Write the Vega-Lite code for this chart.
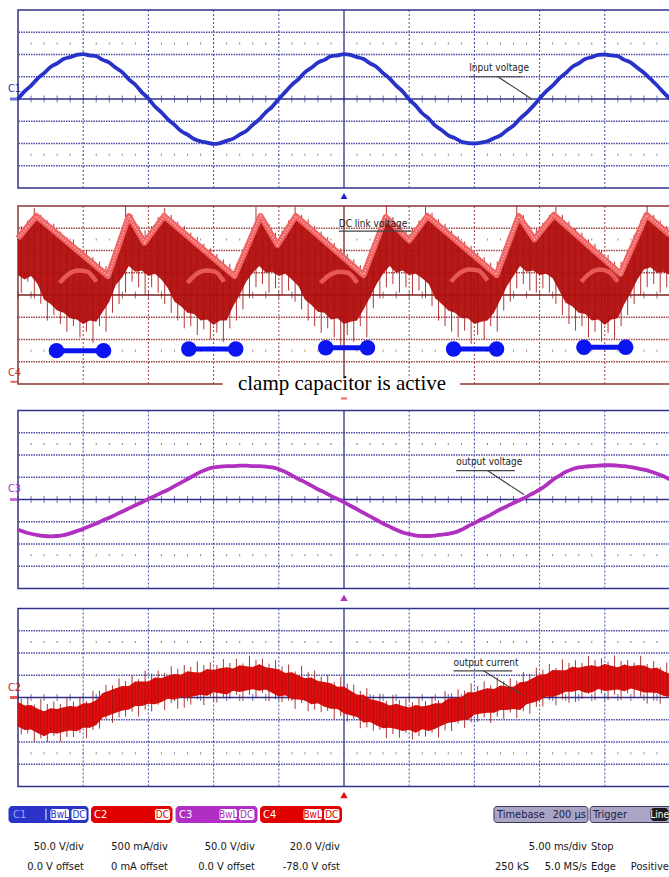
{
"$schema": "https://vega.github.io/schema/vega-lite/v6.json",
"padding": {"left": 7, "top": 8, "right": 0, "bottom": 0},
"background": "white",
"config": {
 "view": {"stroke": "#32328a", "strokeWidth": 1.5},
 "text": {"font": "Liberation Sans Narrow, DejaVu Sans Condensed, sans-serif"}
},
"datasets": {
 "gx": [{"t":5},{"t":10},{"t":15},{"t":20},{"t":30},{"t":35},{"t":40},{"t":45}],
 "gy1": [{"v":-150},{"v":-100},{"v":-50},{"v":50},{"v":100},{"v":150}],
 "gy2": [{"v":18},{"v":38},{"v":58},{"v":98},{"v":118},{"v":138}],
 "gy4": [{"v":-1500},{"v":-1000},{"v":-500},{"v":500},{"v":1000},{"v":1500}],
 "minor": [{"t":0},{"t":1},{"t":2},{"t":3},{"t":4},{"t":5},{"t":6},{"t":7},{"t":8},{"t":9},{"t":10},{"t":11},{"t":12},{"t":13},{"t":14},{"t":15},{"t":16},{"t":17},{"t":18},{"t":19},{"t":20},{"t":21},{"t":22},{"t":23},{"t":24},{"t":25},{"t":26},{"t":27},{"t":28},{"t":29},{"t":30},{"t":31},{"t":32},{"t":33},{"t":34},{"t":35},{"t":36},{"t":37},{"t":38},{"t":39},{"t":40},{"t":41},{"t":42},{"t":43},{"t":44},{"t":45},{"t":46},{"t":47},{"t":48},{"t":49},{"t":50}],
 "p1": [{"t":0,"v":0},{"t":0.5,"v":17},{"t":1,"v":30},{"t":1.5,"v":46},{"t":2,"v":58},{"t":2.5,"v":72},{"t":3,"v":80},{"t":3.5,"v":90},{"t":4,"v":94},{"t":4.5,"v":99},{"t":5,"v":101},{"t":5.5,"v":98},{"t":6,"v":96},{"t":6.5,"v":88},{"t":7,"v":82},{"t":7.5,"v":70},{"t":8,"v":60},{"t":8.5,"v":44},{"t":9,"v":32},{"t":9.5,"v":15},{"t":10,"v":1},{"t":10.5,"v":-17},{"t":11,"v":-30},{"t":11.5,"v":-46},{"t":12,"v":-58},{"t":12.5,"v":-72},{"t":13,"v":-80},{"t":13.5,"v":-90},{"t":14,"v":-95},{"t":14.5,"v":-98},{"t":15,"v":-101},{"t":15.5,"v":-99},{"t":16,"v":-94},{"t":16.5,"v":-89},{"t":17,"v":-80},{"t":17.5,"v":-72},{"t":18,"v":-58},{"t":18.5,"v":-46},{"t":19,"v":-30},{"t":19.5,"v":-17},{"t":20,"v":0},{"t":20.5,"v":16},{"t":21,"v":32},{"t":21.5,"v":44},{"t":22,"v":60},{"t":22.5,"v":70},{"t":23,"v":82},{"t":23.5,"v":88},{"t":24,"v":96},{"t":24.5,"v":98},{"t":25,"v":101},{"t":25.5,"v":99},{"t":26,"v":94},{"t":26.5,"v":90},{"t":27,"v":80},{"t":27.5,"v":72},{"t":28,"v":58},{"t":28.5,"v":46},{"t":29,"v":30},{"t":29.5,"v":17},{"t":30,"v":-1},{"t":30.5,"v":-15},{"t":31,"v":-32},{"t":31.5,"v":-44},{"t":32,"v":-60},{"t":32.5,"v":-70},{"t":33,"v":-82},{"t":33.5,"v":-88},{"t":34,"v":-96},{"t":34.5,"v":-99},{"t":35,"v":-100},{"t":35.5,"v":-98},{"t":36,"v":-95},{"t":36.5,"v":-88},{"t":37,"v":-82},{"t":37.5,"v":-70},{"t":38,"v":-60},{"t":38.5,"v":-44},{"t":39,"v":-31},{"t":39.5,"v":-16},{"t":40,"v":1},{"t":40.5,"v":17},{"t":41,"v":30},{"t":41.5,"v":46},{"t":42,"v":58},{"t":42.5,"v":72},{"t":43,"v":80},{"t":43.5,"v":90},{"t":44,"v":94},{"t":44.5,"v":99},{"t":45,"v":100},{"t":45.5,"v":98},{"t":46,"v":96},{"t":46.5,"v":88},{"t":47,"v":82},{"t":47.5,"v":70},{"t":48,"v":59},{"t":48.5,"v":45},{"t":49,"v":31},{"t":49.5,"v":15},{"t":50,"v":0}],
 "p3": [{"t":0,"v":-68},{"t":0.5,"v":-73},{"t":1,"v":-77},{"t":1.5,"v":-80},{"t":2,"v":-82},{"t":2.5,"v":-83},{"t":3,"v":-82},{"t":3.5,"v":-80},{"t":4,"v":-76},{"t":4.5,"v":-71},{"t":5,"v":-66},{"t":5.5,"v":-60},{"t":6,"v":-54},{"t":6.5,"v":-47},{"t":7,"v":-41},{"t":7.5,"v":-34},{"t":8,"v":-27},{"t":8.5,"v":-20},{"t":9,"v":-13},{"t":9.5,"v":-6},{"t":10,"v":1},{"t":10.5,"v":8},{"t":11,"v":15},{"t":11.5,"v":22},{"t":12,"v":30},{"t":12.5,"v":38},{"t":13,"v":46},{"t":13.5,"v":54},{"t":14,"v":62},{"t":14.5,"v":68},{"t":15,"v":72},{"t":15.5,"v":74},{"t":16,"v":75},{"t":16.5,"v":75},{"t":17,"v":76},{"t":17.5,"v":76},{"t":18,"v":75},{"t":18.5,"v":75},{"t":19,"v":74},{"t":19.5,"v":72},{"t":20,"v":68},{"t":20.5,"v":62},{"t":21,"v":54},{"t":21.5,"v":46},{"t":22,"v":39},{"t":22.5,"v":31},{"t":23,"v":23},{"t":23.5,"v":16},{"t":24,"v":8},{"t":24.5,"v":1},{"t":25,"v":-6},{"t":25.5,"v":-14},{"t":26,"v":-22},{"t":26.5,"v":-30},{"t":27,"v":-38},{"t":27.5,"v":-46},{"t":28,"v":-54},{"t":28.5,"v":-61},{"t":29,"v":-68},{"t":29.5,"v":-74},{"t":30,"v":-78},{"t":30.5,"v":-81},{"t":31,"v":-82},{"t":31.5,"v":-82},{"t":32,"v":-81},{"t":32.5,"v":-79},{"t":33,"v":-77},{"t":33.5,"v":-74},{"t":34,"v":-68},{"t":34.5,"v":-60},{"t":35,"v":-53},{"t":35.5,"v":-45},{"t":36,"v":-38},{"t":36.5,"v":-30},{"t":37,"v":-22},{"t":37.5,"v":-15},{"t":38,"v":-8},{"t":38.5,"v":-1},{"t":39,"v":6},{"t":39.5,"v":14},{"t":40,"v":22},{"t":40.5,"v":32},{"t":41,"v":44},{"t":41.5,"v":53},{"t":42,"v":62},{"t":42.5,"v":68},{"t":43,"v":72},{"t":43.5,"v":74},{"t":44,"v":75},{"t":44.5,"v":76},{"t":45,"v":77},{"t":45.5,"v":77},{"t":46,"v":76},{"t":46.5,"v":75},{"t":47,"v":73},{"t":47.5,"v":70},{"t":48,"v":67},{"t":48.5,"v":63},{"t":49,"v":58},{"t":49.5,"v":52},{"t":50,"v":45}],
 "p4band": [{"t":0,"lo":-650,"hi":-100},{"t":0.5,"lo":-730,"hi":-180},{"t":1,"lo":-720,"hi":-170},{"t":1.5,"lo":-800,"hi":-250},{"t":2,"lo":-870,"hi":-310},{"t":2.5,"lo":-790,"hi":-240},{"t":3,"lo":-810,"hi":-260},{"t":3.5,"lo":-770,"hi":-220},{"t":4,"lo":-740,"hi":-190},{"t":4.5,"lo":-760,"hi":-210},{"t":5,"lo":-680,"hi":-130},{"t":5.5,"lo":-680,"hi":-130},{"t":6,"lo":-620,"hi":-60},{"t":6.5,"lo":-450,"hi":100},{"t":7,"lo":-400,"hi":150},{"t":7.5,"lo":-340,"hi":210},{"t":8,"lo":-290,"hi":260},{"t":8.5,"lo":-270,"hi":260},{"t":9,"lo":-190,"hi":360},{"t":9.5,"lo":-190,"hi":360},{"t":10,"lo":-140,"hi":360},{"t":10.5,"lo":-150,"hi":450},{"t":11,"lo":-100,"hi":440},{"t":11.5,"lo":-30,"hi":490},{"t":12,"lo":-50,"hi":530},{"t":12.5,"lo":10,"hi":510},{"t":13,"lo":0,"hi":590},{"t":13.5,"lo":30,"hi":570},{"t":14,"lo":60,"hi":560},{"t":14.5,"lo":40,"hi":640},{"t":15,"lo":120,"hi":620},{"t":15.5,"lo":95,"hi":655},{"t":16,"lo":70,"hi":680},{"t":16.5,"lo":150,"hi":650},{"t":17,"lo":125,"hi":725},{"t":17.5,"lo":160,"hi":700},{"t":18,"lo":185,"hi":685},{"t":18.5,"lo":150,"hi":750},{"t":19,"lo":180,"hi":680},{"t":19.5,"lo":100,"hi":660},{"t":20,"lo":20,"hi":630},{"t":20.5,"lo":50,"hi":550},{"t":21,"lo":-40,"hi":570},{"t":21.5,"lo":-45,"hi":495},{"t":22,"lo":-70,"hi":430},{"t":22.5,"lo":-150,"hi":450},{"t":23,"lo":-130,"hi":370},{"t":23.5,"lo":-210,"hi":350},{"t":24,"lo":-250,"hi":320},{"t":24.5,"lo":-260,"hi":240},{"t":25,"lo":-360,"hi":250},{"t":25.5,"lo":-400,"hi":150},{"t":26,"lo":-440,"hi":60},{"t":26.5,"lo":-560,"hi":60},{"t":27,"lo":-550,"hi":-40},{"t":27.5,"lo":-630,"hi":-70},{"t":28,"lo":-690,"hi":-110},{"t":28.5,"lo":-680,"hi":-180},{"t":29,"lo":-710,"hi":-140},{"t":29.5,"lo":-750,"hi":-190},{"t":30,"lo":-725,"hi":-225},{"t":30.5,"lo":-790,"hi":-170},{"t":31,"lo":-715,"hi":-205},{"t":31.5,"lo":-755,"hi":-175},{"t":32,"lo":-700,"hi":-130},{"t":32.5,"lo":-630,"hi":-130},{"t":33,"lo":-570,"hi":-20},{"t":33.5,"lo":-550,"hi":-10},{"t":34,"lo":-510,"hi":10},{"t":34.5,"lo":-500,"hi":120},{"t":35,"lo":-390,"hi":120},{"t":35.5,"lo":-360,"hi":170},{"t":36,"lo":-340,"hi":210},{"t":36.5,"lo":-340,"hi":190},{"t":37,"lo":-280,"hi":270},{"t":37.5,"lo":-280,"hi":250},{"t":38,"lo":-260,"hi":240},{"t":38.5,"lo":-280,"hi":340},{"t":39,"lo":-150,"hi":360},{"t":39.5,"lo":-110,"hi":440},{"t":40,"lo":-60,"hi":510},{"t":40.5,"lo":20,"hi":520},{"t":41,"lo":10,"hi":620},{"t":41.5,"lo":60,"hi":610},{"t":42,"lo":130,"hi":610},{"t":42.5,"lo":130,"hi":690},{"t":43,"lo":170,"hi":670},{"t":43.5,"lo":105,"hi":705},{"t":44,"lo":115,"hi":725},{"t":44.5,"lo":190,"hi":690},{"t":45,"lo":145,"hi":755},{"t":45.5,"lo":165,"hi":715},{"t":46,"lo":180,"hi":680},{"t":46.5,"lo":140,"hi":740},{"t":47,"lo":205,"hi":705},{"t":47.5,"lo":165,"hi":725},{"t":48,"lo":110,"hi":720},{"t":48.5,"lo":110,"hi":650},{"t":49,"lo":100,"hi":670},{"t":49.5,"lo":40,"hi":590},{"t":50,"lo":10,"hi":530}],
 "p4spk": [{"t":0.25,"lo":-830,"hi":-30},{"t":0.75,"lo":-805,"hi":5},{"t":1.25,"lo":-1000,"hi":-160},{"t":1.75,"lo":-915,"hi":-35},{"t":2.25,"lo":-995,"hi":-145},{"t":2.75,"lo":-860,"hi":-90},{"t":3.25,"lo":-990,"hi":-150},{"t":3.75,"lo":-890,"hi":-10},{"t":4.25,"lo":-890,"hi":-90},{"t":4.75,"lo":-800,"hi":10},{"t":5.25,"lo":-920,"hi":-80},{"t":5.75,"lo":-730,"hi":150},{"t":6.25,"lo":-700,"hi":150},{"t":6.75,"lo":-485,"hi":285},{"t":7.25,"lo":-570,"hi":270},{"t":7.75,"lo":-450,"hi":430},{"t":8.25,"lo":-430,"hi":370},{"t":8.75,"lo":-320,"hi":490},{"t":9.25,"lo":-430,"hi":410},{"t":9.75,"lo":-275,"hi":605},{"t":10.25,"lo":-315,"hi":535},{"t":10.75,"lo":-165,"hi":605},{"t":11.25,"lo":-285,"hi":555},{"t":11.75,"lo":-125,"hi":705},{"t":12.25,"lo":-250,"hi":650},{"t":12.75,"lo":-230,"hi":730},{"t":13.25,"lo":-160,"hi":690},{"t":13.75,"lo":-40,"hi":810},{"t":14.25,"lo":-170,"hi":730},{"t":14.75,"lo":20,"hi":790},{"t":15.25,"lo":-112,"hi":728},{"t":15.75,"lo":-17,"hi":863},{"t":16.25,"lo":-25,"hi":775},{"t":16.75,"lo":58,"hi":868},{"t":17.25,"lo":-77,"hi":763},{"t":17.75,"lo":58,"hi":938},{"t":18.25,"lo":-2,"hi":848},{"t":18.75,"lo":105,"hi":875},{"t":19.25,"lo":-80,"hi":760},{"t":19.75,"lo":-40,"hi":840},{"t":20.25,"lo":-100,"hi":700},{"t":20.75,"lo":-70,"hi":740},{"t":21.25,"lo":-257,"hi":583},{"t":21.75,"lo":-122,"hi":708},{"t":22.25,"lo":-310,"hi":570},{"t":22.75,"lo":-270,"hi":610},{"t":23.25,"lo":-330,"hi":470},{"t":23.75,"lo":-300,"hi":510},{"t":24.25,"lo":-490,"hi":350},{"t":24.75,"lo":-415,"hi":465},{"t":25.25,"lo":-540,"hi":310},{"t":25.75,"lo":-480,"hi":290},{"t":26.25,"lo":-690,"hi":150},{"t":26.75,"lo":-670,"hi":210},{"t":27.25,"lo":-745,"hi":55},{"t":27.75,"lo":-725,"hi":85},{"t":28.25,"lo":-915,"hi":-75},{"t":28.75,"lo":-820,"hi":60},{"t":29.25,"lo":-905,"hi":-55},{"t":29.75,"lo":-793,"hi":-23},{"t":30.25,"lo":-948,"hi":-108},{"t":30.75,"lo":-868,"hi":12},{"t":31.25,"lo":-880,"hi":-80},{"t":31.75,"lo":-788,"hi":22},{"t":32.25,"lo":-900,"hi":-60},{"t":32.75,"lo":-735,"hi":145},{"t":33.25,"lo":-755,"hi":95},{"t":33.75,"lo":-585,"hi":185},{"t":34.25,"lo":-685,"hi":155},{"t":34.75,"lo":-560,"hi":320},{"t":35.25,"lo":-545,"hi":255},{"t":35.75,"lo":-445,"hi":365},{"t":36.25,"lo":-570,"hi":270},{"t":36.75,"lo":-430,"hi":450},{"t":37.25,"lo":-480,"hi":370},{"t":37.75,"lo":-340,"hi":430},{"t":38.25,"lo":-460,"hi":380},{"t":38.75,"lo":-310,"hi":570},{"t":39.25,"lo":-370,"hi":530},{"t":39.75,"lo":-210,"hi":670},{"t":40.25,"lo":-205,"hi":625},{"t":40.75,"lo":-60,"hi":750},{"t":41.25,"lo":-175,"hi":665},{"t":41.75,"lo":-45,"hi":855},{"t":42.25,"lo":-120,"hi":780},{"t":42.75,"lo":-100,"hi":840},{"t":43.25,"lo":-32,"hi":778},{"t":43.75,"lo":80,"hi":930},{"t":44.25,"lo":-62,"hi":838},{"t":44.75,"lo":93,"hi":883},{"t":45.25,"lo":-55,"hi":805},{"t":45.75,"lo":63,"hi":943},{"t":46.25,"lo":-60,"hi":820},{"t":46.75,"lo":93,"hi":843},{"t":47.25,"lo":-5,"hi":785},{"t":47.75,"lo":18,"hi":938},{"t":48.25,"lo":-135,"hi":755},{"t":48.75,"lo":-70,"hi":820},{"t":49.25,"lo":-140,"hi":680},{"t":49.75,"lo":-5,"hi":785}],
 "p2area": [{"t":0,"u":129,"l":96},{"t":0.5,"u":136,"l":92},{"t":1,"u":143,"l":95},{"t":1.5,"u":148,"l":88},{"t":2,"u":143,"l":74},{"t":2.5,"u":138,"l":70},{"t":3,"u":133,"l":64},{"t":3.5,"u":128,"l":62},{"t":4,"u":123.5,"l":57},{"t":4.5,"u":118.6,"l":56},{"t":5,"u":113.7,"l":52},{"t":5.5,"u":108.7,"l":55},{"t":6,"u":103.8,"l":54},{"t":6.5,"u":98.9,"l":63},{"t":7,"u":98.4,"l":72},{"t":7.5,"u":115.3,"l":87},{"t":8,"u":132.1,"l":94},{"t":8.5,"u":149,"l":104},{"t":9,"u":139,"l":99},{"t":9.5,"u":129,"l":100},{"t":10,"u":129.8,"l":95},{"t":10.5,"u":137.8,"l":97},{"t":11,"u":145.8,"l":92},{"t":11.5,"u":146,"l":84},{"t":12,"u":141,"l":72},{"t":12.5,"u":136,"l":68},{"t":13,"u":131,"l":62},{"t":13.5,"u":126,"l":61},{"t":14,"u":121,"l":55},{"t":14.5,"u":116,"l":56},{"t":15,"u":111,"l":51},{"t":15.5,"u":106,"l":55},{"t":16,"u":101,"l":55},{"t":16.5,"u":96,"l":68},{"t":17,"u":105.8,"l":78},{"t":17.5,"u":119.3,"l":90},{"t":18,"u":132.8,"l":98},{"t":18.5,"u":146.3,"l":104},{"t":19,"u":141,"l":98},{"t":19.5,"u":131,"l":99},{"t":20,"u":124.9,"l":95},{"t":20.5,"u":134.1,"l":97},{"t":21,"u":143.4,"l":92},{"t":21.5,"u":147,"l":86},{"t":22,"u":141.9,"l":74},{"t":22.5,"u":136.8,"l":69},{"t":23,"u":131.7,"l":63},{"t":23.5,"u":126.6,"l":62},{"t":24,"u":121.5,"l":56},{"t":24.5,"u":116.4,"l":57},{"t":25,"u":111.3,"l":52},{"t":25.5,"u":106.2,"l":54},{"t":26,"u":101.1,"l":55},{"t":26.5,"u":96,"l":65},{"t":27,"u":111.3,"l":76},{"t":27.5,"u":126.6,"l":88},{"t":28,"u":141.9,"l":97},{"t":28.5,"u":144.5,"l":104},{"t":29,"u":138.7,"l":98},{"t":29.5,"u":132.8,"l":100},{"t":30,"u":127,"l":96},{"t":30.5,"u":134.9,"l":97},{"t":31,"u":142.7,"l":93},{"t":31.5,"u":148,"l":88},{"t":32,"u":143,"l":75},{"t":32.5,"u":138,"l":70},{"t":33,"u":133,"l":64},{"t":33.5,"u":128,"l":62},{"t":34,"u":123,"l":57},{"t":34.5,"u":118,"l":57},{"t":35,"u":113,"l":52},{"t":35.5,"u":108,"l":54},{"t":36,"u":103,"l":55},{"t":36.5,"u":98,"l":62},{"t":37,"u":105.4,"l":74},{"t":37.5,"u":121,"l":86},{"t":38,"u":136.6,"l":95},{"t":38.5,"u":147.3,"l":104},{"t":39,"u":138.5,"l":99},{"t":39.5,"u":129.8,"l":100},{"t":40,"u":133.9,"l":96},{"t":40.5,"u":141.2,"l":97},{"t":41,"u":148.5,"l":93},{"t":41.5,"u":145.8,"l":82},{"t":42,"u":140.6,"l":71},{"t":42.5,"u":135.5,"l":68},{"t":43,"u":130.3,"l":62},{"t":43.5,"u":125.1,"l":61},{"t":44,"u":119.9,"l":55},{"t":44.5,"u":114.7,"l":56},{"t":45,"u":109.5,"l":51},{"t":45.5,"u":104.3,"l":56},{"t":46,"u":99.1,"l":57},{"t":46.5,"u":105,"l":70},{"t":47,"u":118.2,"l":80},{"t":47.5,"u":131.5,"l":92},{"t":48,"u":144.7,"l":101},{"t":48.5,"u":147,"l":103},{"t":49,"u":142,"l":98},{"t":49.5,"u":137,"l":99},{"t":50,"u":132,"l":96}],
 "p2spk": [{"t":0.25,"top":140,"bot":80},{"t":0.75,"top":145,"bot":90},{"t":1.25,"top":156,"bot":75},{"t":1.75,"top":150,"bot":70},{"t":2.25,"top":145,"bot":55},{"t":2.75,"top":142,"bot":60},{"t":3.25,"top":135,"bot":52},{"t":3.75,"top":130,"bot":45},{"t":4.25,"top":128,"bot":50},{"t":4.75,"top":120,"bot":40},{"t":5.25,"top":118,"bot":45},{"t":5.75,"top":112,"bot":35},{"t":6.25,"top":108,"bot":50},{"t":6.75,"top":104,"bot":45},{"t":7.25,"top":112,"bot":62},{"t":7.75,"top":130,"bot":70},{"t":8.25,"top":158,"bot":80},{"t":8.75,"top":150,"bot":90},{"t":9.25,"top":140,"bot":85},{"t":9.75,"top":136,"bot":78},{"t":10.25,"top":140,"bot":85},{"t":10.75,"top":148,"bot":80},{"t":11.25,"top":156,"bot":70},{"t":11.75,"top":150,"bot":62},{"t":12.25,"top":144,"bot":55},{"t":12.75,"top":140,"bot":48},{"t":13.25,"top":134,"bot":50},{"t":13.75,"top":130,"bot":42},{"t":14.25,"top":124,"bot":47},{"t":14.75,"top":120,"bot":38},{"t":15.25,"top":115,"bot":44},{"t":15.75,"top":110,"bot":36},{"t":16.25,"top":106,"bot":48},{"t":16.75,"top":106,"bot":55},{"t":17.25,"top":118,"bot":65},{"t":17.75,"top":132,"bot":75},{"t":18.25,"top":157,"bot":85},{"t":18.75,"top":150,"bot":88},{"t":19.25,"top":142,"bot":80},{"t":19.75,"top":134,"bot":84},{"t":20.25,"top":136,"bot":78},{"t":20.75,"top":145,"bot":82},{"t":21.25,"top":157,"bot":72},{"t":21.75,"top":150,"bot":65},{"t":22.25,"top":146,"bot":55},{"t":22.75,"top":140,"bot":50},{"t":23.25,"top":135,"bot":44},{"t":23.75,"top":130,"bot":48},{"t":24.25,"top":125,"bot":40},{"t":24.75,"top":120,"bot":30},{"t":25.25,"top":115,"bot":42},{"t":25.75,"top":110,"bot":36},{"t":26.25,"top":105,"bot":50},{"t":26.75,"top":110,"bot":40},{"t":27.25,"top":125,"bot":66},{"t":27.75,"top":140,"bot":75},{"t":28.25,"top":158,"bot":85},{"t":28.75,"top":148,"bot":88},{"t":29.25,"top":142,"bot":80},{"t":29.75,"top":136,"bot":85},{"t":30.25,"top":138,"bot":78},{"t":30.75,"top":145,"bot":82},{"t":31.25,"top":157,"bot":75},{"t":31.75,"top":152,"bot":68},{"t":32.25,"top":146,"bot":55},{"t":32.75,"top":142,"bot":50},{"t":33.25,"top":136,"bot":45},{"t":33.75,"top":131,"bot":40},{"t":34.25,"top":126,"bot":46},{"t":34.75,"top":122,"bot":34},{"t":35.25,"top":116,"bot":42},{"t":35.75,"top":112,"bot":38},{"t":36.25,"top":107,"bot":50},{"t":36.75,"top":108,"bot":45},{"t":37.25,"top":120,"bot":64},{"t":37.75,"top":135,"bot":72},{"t":38.25,"top":158,"bot":84},{"t":38.75,"top":150,"bot":88},{"t":39.25,"top":140,"bot":82},{"t":39.75,"top":138,"bot":80},{"t":40.25,"top":143,"bot":84},{"t":40.75,"top":150,"bot":80},{"t":41.25,"top":157,"bot":70},{"t":41.75,"top":150,"bot":60},{"t":42.25,"top":144,"bot":52},{"t":42.75,"top":138,"bot":46},{"t":43.25,"top":134,"bot":50},{"t":43.75,"top":128,"bot":40},{"t":44.25,"top":124,"bot":45},{"t":44.75,"top":118,"bot":36},{"t":45.25,"top":114,"bot":44},{"t":45.75,"top":108,"bot":38},{"t":46.25,"top":108,"bot":50},{"t":46.75,"top":118,"bot":60},{"t":47.25,"top":132,"bot":70},{"t":47.75,"top":145,"bot":78},{"t":48.25,"top":158,"bot":85},{"t":48.75,"top":150,"bot":88},{"t":49.25,"top":145,"bot":80},{"t":49.75,"top":140,"bot":85}],
 "p2z": [{"t":0,"v":129},{"t":1.4,"v":149},{"t":6.9,"v":95},{"t":8.5,"v":149},{"t":9.7,"v":125},{"t":11.2,"v":149},{"t":16.6,"v":95},{"t":18.6,"v":149},{"t":19.9,"v":123},{"t":21.3,"v":149},{"t":26.5,"v":96},{"t":28.2,"v":148},{"t":30.0,"v":127},{"t":31.4,"v":149},{"t":36.7,"v":96},{"t":38.4,"v":149},{"t":39.6,"v":128},{"t":41.1,"v":150},{"t":46.2,"v":97},{"t":48.2,"v":150},{"t":50,"v":132}],
 "p2h": [{"k":1,"t":3.2,"v":89},{"k":1,"t":3.9,"v":97},{"k":1,"t":4.6,"v":100},{"k":1,"t":5.3,"v":99},{"k":1,"t":6.0,"v":90},{"k":2,"t":13.0,"v":89},{"k":2,"t":13.7,"v":97},{"k":2,"t":14.4,"v":100},{"k":2,"t":15.1,"v":99},{"k":2,"t":15.8,"v":90},{"k":3,"t":23.2,"v":89},{"k":3,"t":23.9,"v":96},{"k":3,"t":24.6,"v":99},{"k":3,"t":25.3,"v":98},{"k":3,"t":26.0,"v":89},{"k":4,"t":33.2,"v":90},{"k":4,"t":33.9,"v":98},{"k":4,"t":34.6,"v":101},{"k":4,"t":35.3,"v":100},{"k":4,"t":36.0,"v":91},{"k":5,"t":43.2,"v":90},{"k":5,"t":43.9,"v":98},{"k":5,"t":44.6,"v":101},{"k":5,"t":45.3,"v":99},{"k":5,"t":46.0,"v":90}],
 "dumb": [{"t1":2.95,"t2":6.56,"v":28},{"t1":13.1,"t2":16.7,"v":29.5},{"t1":23.6,"t2":26.8,"v":30.5},{"t1":33.4,"t2":36.7,"v":29.5},{"t1":43.4,"t2":46.6,"v":31}],
 "boxes": [{"ch":"C1","x1":-0.69,"x2":5.37},{"ch":"C2","x1":5.64,"x2":11.81},{"ch":"C3","x1":12.12,"x2":18.33},{"ch":"C4","x1":18.6,"x2":24.81},{"ch":"TB","x1":36.5,"x2":43.71},{"ch":"TR","x1":43.87,"x2":50.4}],
 "badges": [{"ch":"C1","lab":"","x1":2.07,"x2":2.22,"xm":2.15},{"ch":"C1","lab":"BwL","x1":2.45,"x2":3.95,"xm":3.2},{"ch":"C1","lab":"DC","x1":4.06,"x2":5.29,"xm":4.68},{"ch":"C2","lab":"DC","x1":10.47,"x2":11.69,"xm":11.08},{"ch":"C3","lab":"BwL","x1":15.41,"x2":16.83,"xm":16.12},{"ch":"C3","lab":"DC","x1":16.91,"x2":18.17,"xm":17.54},{"ch":"C4","lab":"BwL","x1":21.86,"x2":23.35,"xm":22.6},{"ch":"C4","lab":"DC","x1":23.43,"x2":24.69,"xm":24.06},{"ch":"TR","lab":"Line","x1":48.54,"x2":49.85,"xm":49.2}],
 "boxlab": [{"ch":"C1","x":-0.38,"lab":"C1"},{"ch":"C2","x":5.83,"lab":"C2"},{"ch":"C3","x":12.35,"lab":"C3"},{"ch":"C4","x":18.79,"lab":"C4"},{"ch":"TB","x":36.73,"lab":"Timebase"},{"ch":"TR","x":44.1,"lab":"Trigger"}],
 "rowR": [{"x":5.06,"r":2,"lab":"50.0 V/div"},{"x":11.5,"r":2,"lab":"500 mA/div"},{"x":18.17,"r":2,"lab":"50.0 V/div"},{"x":24.69,"r":2,"lab":"20.0 V/div"},{"x":43.63,"r":2,"lab":"5.00 ms/div"},{"x":5.06,"r":3,"lab":"0.0 V offset"},{"x":11.5,"r":3,"lab":"0 mA offset"},{"x":18.17,"r":3,"lab":"0.0 V offset"},{"x":24.69,"r":3,"lab":"-78.0 V ofst"},{"x":43.63,"r":3,"lab":"5.0 MS/s"},{"x":49.92,"r":3,"lab":"Positive"}],
 "rowL": [{"x":43.94,"r":2,"lab":"Stop"},{"x":36.58,"r":3,"lab":"250 kS"},{"x":43.94,"r":3,"lab":"Edge"}],
 "tbR": [{"x":43.55,"lab":"200 µs"}]
},
"spacing": 7.5,
"vconcat": [
 {
  "bounds": "flush",
  "spacing": 18,
  "vconcat": [
   {
    "width": 652, "height": 178,
    "layer": [
     {"data": {"name": "gx"}, "mark": {"type": "rule", "color": "#4a4aa2", "strokeWidth": 1, "strokeDash": [2, 2]}, "encoding": {"x": {"field": "t", "type": "quantitative", "axis": null}}},
     {"data": {"name": "gy1"}, "mark": {"type": "rule", "color": "#4a4aa2", "strokeWidth": 1.5, "strokeDash": [1.5, 1]}, "encoding": {"y": {"field": "v", "type": "quantitative", "axis": null}}},
     {"data": {"values": [{}]}, "mark": {"type": "rule", "color": "#32328a", "strokeWidth": 1.3}, "encoding": {"x": {"datum": 25, "type": "quantitative", "axis": null}}},
     {"data": {"values": [{}]}, "mark": {"type": "rule", "color": "#32328a", "strokeWidth": 1.5}, "encoding": {"y": {"datum": 0, "type": "quantitative", "axis": null}}},
     {"data": {"name": "minor"}, "mark": {"type": "tick", "orient": "vertical", "size": 7, "thickness": 1, "color": "#32328a"}, "encoding": {"x": {"field": "t", "type": "quantitative", "axis": null}, "y": {"datum": 0, "type": "quantitative", "axis": null}}},
     {"data": {"name": "minor"}, "mark": {"type": "tick", "orient": "vertical", "size": 2, "thickness": 1, "color": "#4646a0"}, "encoding": {"x": {"field": "t", "type": "quantitative", "axis": null}, "y": {"datum": 125, "type": "quantitative", "axis": null}}},
     {"data": {"name": "minor"}, "mark": {"type": "tick", "orient": "vertical", "size": 2, "thickness": 1, "color": "#4646a0"}, "encoding": {"x": {"field": "t", "type": "quantitative", "axis": null}, "y": {"datum": -125, "type": "quantitative", "axis": null}}},
     {"data": {"name": "p1"}, "mark": {"type": "line", "color": "#2832c8", "strokeWidth": 3.8, "interpolate": "monotone"},
      "encoding": {"x": {"field": "t", "type": "quantitative", "scale": {"domain": [0, 50], "nice": false, "zero": false}, "axis": null},
                   "y": {"field": "v", "type": "quantitative", "scale": {"domain": [-200, 200], "nice": false, "zero": false}, "axis": null}}},
     {"data": {"values": [{"t1": 34.6, "t2": 38.7, "v1": 50, "v2": 50}, {"t1": 36.8, "t2": 39.4, "v1": 50, "v2": 0}]}, "mark": {"type": "rule", "color": "#444444", "strokeWidth": 1.2},
      "encoding": {"x": {"field": "t1", "type": "quantitative", "axis": null}, "x2": {"field": "t2"}, "y": {"field": "v1", "type": "quantitative", "axis": null}, "y2": {"field": "v2"}}},
     {"data": {"values": [{"t": 34.6, "v": 64, "lab": "Input voltage"}]}, "mark": {"type": "text", "align": "left", "baseline": "alphabetic", "fontSize": 10, "color": "#222222"},
      "encoding": {"x": {"field": "t", "type": "quantitative", "axis": null}, "y": {"field": "v", "type": "quantitative", "axis": null}, "text": {"field": "lab"}}},
     {"data": {"values": [{"t": -0.77, "v": 0, "lab": "C1"}]}, "mark": {"type": "text", "align": "left", "baseline": "alphabetic", "dy": -7, "fontSize": 11, "color": "#2830a0"},
      "encoding": {"x": {"field": "t", "type": "quantitative", "axis": null}, "y": {"field": "v", "type": "quantitative", "axis": null}, "text": {"field": "lab"}}},
     {"data": {"values": [{"t": -0.31, "v": 0}]}, "mark": {"type": "tick", "orient": "horizontal", "size": 8, "thickness": 3, "color": "#2832c8"},
      "encoding": {"x": {"field": "t", "type": "quantitative", "axis": null}, "y": {"field": "v", "type": "quantitative", "axis": null}}},
     {"data": {"values": [{}]}, "mark": {"type": "point", "shape": "triangle-up", "filled": true, "size": 45, "color": "#2020c8", "opacity": 1},
      "encoding": {"x": {"datum": 25, "type": "quantitative", "axis": null}, "y": {"datum": -218, "type": "quantitative", "axis": null}}}
    ]
   },
   {
    "width": 652, "height": 178,
    "view": {"stroke": "#8a3434", "strokeWidth": 1.5},
    "layer": [
     {"data": {"name": "gx"}, "mark": {"type": "rule", "color": "#9a4444", "strokeWidth": 1, "strokeDash": [2, 2]}, "encoding": {"x": {"field": "t", "type": "quantitative", "axis": null}}},
     {"data": {"name": "gy2"}, "mark": {"type": "rule", "color": "#9a4444", "strokeWidth": 1.5, "strokeDash": [1.5, 1]}, "encoding": {"y": {"field": "v", "type": "quantitative", "axis": null}}},
     {"data": {"values": [{}]}, "mark": {"type": "rule", "color": "#7a2222", "strokeWidth": 1.3}, "encoding": {"x": {"datum": 25, "type": "quantitative", "axis": null}}},
     {"data": {"values": [{}]}, "mark": {"type": "rule", "color": "#7a2222", "strokeWidth": 1.5}, "encoding": {"y": {"datum": 78, "type": "quantitative", "axis": null}}},
     {"data": {"name": "minor"}, "mark": {"type": "tick", "orient": "vertical", "size": 7, "thickness": 1, "color": "#7a2222"}, "encoding": {"x": {"field": "t", "type": "quantitative", "axis": null}, "y": {"datum": 78, "type": "quantitative", "axis": null}}},
     {"data": {"name": "minor"}, "mark": {"type": "tick", "orient": "vertical", "size": 2, "thickness": 1, "color": "#9a4444"}, "encoding": {"x": {"field": "t", "type": "quantitative", "axis": null}, "y": {"datum": 128, "type": "quantitative", "axis": null}}},
     {"data": {"name": "minor"}, "mark": {"type": "tick", "orient": "vertical", "size": 2, "thickness": 1, "color": "#9a4444"}, "encoding": {"x": {"field": "t", "type": "quantitative", "axis": null}, "y": {"datum": 28, "type": "quantitative", "axis": null}}},
     {"data": {"name": "p2area"}, "mark": {"type": "area", "color": "#b30d0d", "opacity": 0.95},
      "encoding": {"x": {"field": "t", "type": "quantitative", "scale": {"domain": [0, 50], "nice": false, "zero": false}, "axis": null},
                   "y": {"field": "u", "type": "quantitative", "scale": {"domain": [-2, 158], "nice": false, "zero": false}, "axis": null},
                   "y2": {"field": "l"}}},
     {"data": {"name": "p2spk"}, "mark": {"type": "rule", "color": "#a31212", "strokeWidth": 1, "opacity": 0.85},
      "encoding": {"x": {"field": "t", "type": "quantitative", "axis": null}, "y": {"field": "top", "type": "quantitative", "axis": null}, "y2": {"field": "bot"}}},
     {"data": {"name": "p2z"}, "mark": {"type": "line", "color": "#f06464", "strokeWidth": 6, "strokeJoin": "round"},
      "encoding": {"x": {"field": "t", "type": "quantitative", "axis": null}, "y": {"field": "v", "type": "quantitative", "axis": null}}},
     {"data": {"name": "p2z"}, "mark": {"type": "line", "color": "#ffc4c4", "strokeWidth": 1.5, "strokeDash": [1, 2]},
      "encoding": {"x": {"field": "t", "type": "quantitative", "axis": null}, "y": {"field": "v", "type": "quantitative", "axis": null}}},
     {"data": {"name": "p2h"}, "mark": {"type": "line", "color": "#f06464", "strokeWidth": 4.5, "opacity": 0.85, "interpolate": "monotone"},
      "encoding": {"x": {"field": "t", "type": "quantitative", "axis": null}, "y": {"field": "v", "type": "quantitative", "axis": null}, "detail": {"field": "k"}}},
     {"data": {"name": "dumb"}, "mark": {"type": "rule", "color": "#0a14f0", "strokeWidth": 5},
      "encoding": {"x": {"field": "t1", "type": "quantitative", "axis": null}, "x2": {"field": "t2"}, "y": {"field": "v", "type": "quantitative", "axis": null}}},
     {"data": {"name": "dumb"}, "mark": {"type": "point", "shape": "circle", "filled": true, "size": 240, "color": "#0a14f0", "opacity": 1},
      "encoding": {"x": {"field": "t1", "type": "quantitative", "axis": null}, "y": {"field": "v", "type": "quantitative", "axis": null}}},
     {"data": {"name": "dumb"}, "mark": {"type": "point", "shape": "circle", "filled": true, "size": 240, "color": "#0a14f0", "opacity": 1},
      "encoding": {"x": {"field": "t2", "type": "quantitative", "axis": null}, "y": {"field": "v", "type": "quantitative", "axis": null}}},
     {"data": {"values": [{"t1": 24.6, "t2": 30.2, "v": 135.5}]}, "mark": {"type": "rule", "color": "#444444", "strokeWidth": 1.2},
      "encoding": {"x": {"field": "t1", "type": "quantitative", "axis": null}, "x2": {"field": "t2"}, "y": {"field": "v", "type": "quantitative", "axis": null}}},
     {"data": {"values": [{"t": 24.6, "v": 139, "lab": "DC link voltage"}]}, "mark": {"type": "text", "align": "left", "baseline": "alphabetic", "fontSize": 10, "color": "#222222"},
      "encoding": {"x": {"field": "t", "type": "quantitative", "axis": null}, "y": {"field": "v", "type": "quantitative", "axis": null}, "text": {"field": "lab"}}},
     {"data": {"values": [{"t1": 15.7, "t2": 33.9, "v1": -7, "v2": 3}]}, "mark": {"type": "rect", "color": "white", "opacity": 1},
      "encoding": {"x": {"field": "t1", "type": "quantitative", "axis": null}, "x2": {"field": "t2"}, "y": {"field": "v1", "type": "quantitative", "axis": null}, "y2": {"field": "v2"}}},
     {"data": {"values": [{"t": 24.85, "v": -7.4, "lab": "clamp capacitor is active"}]}, "mark": {"type": "text", "align": "center", "baseline": "alphabetic", "fontSize": 21, "font": "Liberation Serif", "color": "#000000"},
      "encoding": {"x": {"field": "t", "type": "quantitative", "axis": null}, "y": {"field": "v", "type": "quantitative", "axis": null}, "text": {"field": "lab"}}},
     {"data": {"values": [{"t": -0.77, "v": 0, "lab": "C4"}]}, "mark": {"type": "text", "align": "left", "baseline": "alphabetic", "dy": -6, "fontSize": 11, "color": "#c83030"},
      "encoding": {"x": {"field": "t", "type": "quantitative", "axis": null}, "y": {"field": "v", "type": "quantitative", "axis": null}, "text": {"field": "lab"}}},
     {"data": {"values": [{"t": -0.31, "v": 0}]}, "mark": {"type": "tick", "orient": "horizontal", "size": 7, "thickness": 2, "color": "#d02a2a"},
      "encoding": {"x": {"field": "t", "type": "quantitative", "axis": null}, "y": {"field": "v", "type": "quantitative", "axis": null}}},
     {"data": {"values": [{}]}, "mark": {"type": "tick", "orient": "horizontal", "size": 6, "thickness": 2, "color": "#e02020"},
      "encoding": {"x": {"datum": 25, "type": "quantitative", "axis": null}, "y": {"datum": -15, "type": "quantitative", "axis": null}}}
    ]
   }
  ]
 },
 {
  "bounds": "flush",
  "spacing": 20,
  "vconcat": [
   {
    "width": 652, "height": 178,
    "layer": [
     {"data": {"name": "gx"}, "mark": {"type": "rule", "color": "#4a4aa2", "strokeWidth": 1, "strokeDash": [2, 2]}, "encoding": {"x": {"field": "t", "type": "quantitative", "axis": null}}},
     {"data": {"name": "gy1"}, "mark": {"type": "rule", "color": "#4a4aa2", "strokeWidth": 1.5, "strokeDash": [1.5, 1]}, "encoding": {"y": {"field": "v", "type": "quantitative", "axis": null}}},
     {"data": {"values": [{}]}, "mark": {"type": "rule", "color": "#32328a", "strokeWidth": 1.3}, "encoding": {"x": {"datum": 25, "type": "quantitative", "axis": null}}},
     {"data": {"values": [{}]}, "mark": {"type": "rule", "color": "#32328a", "strokeWidth": 1.5}, "encoding": {"y": {"datum": 0, "type": "quantitative", "axis": null}}},
     {"data": {"name": "minor"}, "mark": {"type": "tick", "orient": "vertical", "size": 7, "thickness": 1, "color": "#32328a"}, "encoding": {"x": {"field": "t", "type": "quantitative", "axis": null}, "y": {"datum": 0, "type": "quantitative", "axis": null}}},
     {"data": {"name": "minor"}, "mark": {"type": "tick", "orient": "vertical", "size": 2, "thickness": 1, "color": "#4646a0"}, "encoding": {"x": {"field": "t", "type": "quantitative", "axis": null}, "y": {"datum": 125, "type": "quantitative", "axis": null}}},
     {"data": {"name": "minor"}, "mark": {"type": "tick", "orient": "vertical", "size": 2, "thickness": 1, "color": "#4646a0"}, "encoding": {"x": {"field": "t", "type": "quantitative", "axis": null}, "y": {"datum": -125, "type": "quantitative", "axis": null}}},
     {"data": {"name": "p3"}, "mark": {"type": "line", "color": "#b030c0", "strokeWidth": 3.8, "interpolate": "monotone"},
      "encoding": {"x": {"field": "t", "type": "quantitative", "scale": {"domain": [0, 50], "nice": false, "zero": false}, "axis": null},
                   "y": {"field": "v", "type": "quantitative", "scale": {"domain": [-200, 200], "nice": false, "zero": false}, "axis": null}}},
     {"data": {"values": [{"t1": 33.6, "t2": 38.1, "v1": 65, "v2": 65}, {"t1": 36.0, "t2": 38.8, "v1": 65, "v2": 11}]}, "mark": {"type": "rule", "color": "#444444", "strokeWidth": 1.2},
      "encoding": {"x": {"field": "t1", "type": "quantitative", "axis": null}, "x2": {"field": "t2"}, "y": {"field": "v1", "type": "quantitative", "axis": null}, "y2": {"field": "v2"}}},
     {"data": {"values": [{"t": 33.6, "v": 78, "lab": "output voltage"}]}, "mark": {"type": "text", "align": "left", "baseline": "alphabetic", "fontSize": 10, "color": "#222222"},
      "encoding": {"x": {"field": "t", "type": "quantitative", "axis": null}, "y": {"field": "v", "type": "quantitative", "axis": null}, "text": {"field": "lab"}}},
     {"data": {"values": [{"t": -0.77, "v": 0, "lab": "C3"}]}, "mark": {"type": "text", "align": "left", "baseline": "alphabetic", "dy": -8, "fontSize": 11, "color": "#b030c0"},
      "encoding": {"x": {"field": "t", "type": "quantitative", "axis": null}, "y": {"field": "v", "type": "quantitative", "axis": null}, "text": {"field": "lab"}}},
     {"data": {"values": [{"t": -0.31, "v": 0}]}, "mark": {"type": "tick", "orient": "horizontal", "size": 8, "thickness": 3, "color": "#b030c0"},
      "encoding": {"x": {"field": "t", "type": "quantitative", "axis": null}, "y": {"field": "v", "type": "quantitative", "axis": null}}},
     {"data": {"values": [{}]}, "mark": {"type": "point", "shape": "triangle-up", "filled": true, "size": 55, "color": "#b030c0", "opacity": 1},
      "encoding": {"x": {"datum": 25, "type": "quantitative", "axis": null}, "y": {"datum": -221, "type": "quantitative", "axis": null}}}
    ]
   },
   {
    "width": 652, "height": 178,
    "layer": [
     {"data": {"name": "gx"}, "mark": {"type": "rule", "color": "#4a4aa2", "strokeWidth": 1, "strokeDash": [2, 2]}, "encoding": {"x": {"field": "t", "type": "quantitative", "axis": null}}},
     {"data": {"name": "gy4"}, "mark": {"type": "rule", "color": "#4a4aa2", "strokeWidth": 1.5, "strokeDash": [1.5, 1]}, "encoding": {"y": {"field": "v", "type": "quantitative", "axis": null}}},
     {"data": {"values": [{}]}, "mark": {"type": "rule", "color": "#32328a", "strokeWidth": 1.3}, "encoding": {"x": {"datum": 25, "type": "quantitative", "axis": null}}},
     {"data": {"values": [{}]}, "mark": {"type": "rule", "color": "#32328a", "strokeWidth": 1.5}, "encoding": {"y": {"datum": 0, "type": "quantitative", "axis": null}}},
     {"data": {"name": "minor"}, "mark": {"type": "tick", "orient": "vertical", "size": 7, "thickness": 1, "color": "#32328a"}, "encoding": {"x": {"field": "t", "type": "quantitative", "axis": null}, "y": {"datum": 0, "type": "quantitative", "axis": null}}},
     {"data": {"name": "minor"}, "mark": {"type": "tick", "orient": "vertical", "size": 2, "thickness": 1, "color": "#4646a0"}, "encoding": {"x": {"field": "t", "type": "quantitative", "axis": null}, "y": {"datum": 1250, "type": "quantitative", "axis": null}}},
     {"data": {"name": "minor"}, "mark": {"type": "tick", "orient": "vertical", "size": 2, "thickness": 1, "color": "#4646a0"}, "encoding": {"x": {"field": "t", "type": "quantitative", "axis": null}, "y": {"datum": -1250, "type": "quantitative", "axis": null}}},
     {"data": {"name": "p4band"}, "mark": {"type": "area", "color": "#e20c0c", "opacity": 1},
      "encoding": {"x": {"field": "t", "type": "quantitative", "scale": {"domain": [0, 50], "nice": false, "zero": false}, "axis": null},
                   "y": {"field": "lo", "type": "quantitative", "scale": {"domain": [-2000, 2000], "nice": false, "zero": false}, "axis": null},
                   "y2": {"field": "hi"}}},
     {"data": {"name": "p4band"}, "mark": {"type": "rule", "color": "#a01010", "strokeWidth": 0.9, "opacity": 0.55},
      "encoding": {"x": {"field": "t", "type": "quantitative", "axis": null}, "y": {"field": "lo", "type": "quantitative", "axis": null}, "y2": {"field": "hi"}}},
     {"data": {"name": "p4spk"}, "mark": {"type": "rule", "color": "#9a1515", "strokeWidth": 1, "opacity": 0.85},
      "encoding": {"x": {"field": "t", "type": "quantitative", "axis": null}, "y": {"field": "lo", "type": "quantitative", "axis": null}, "y2": {"field": "hi"}}},
     {"data": {"values": [{"t1": 33.4, "t2": 37.9, "v1": 600, "v2": 600}, {"t1": 35.7, "t2": 38.65, "v1": 600, "v2": 60}]}, "mark": {"type": "rule", "color": "#444444", "strokeWidth": 1.2},
      "encoding": {"x": {"field": "t1", "type": "quantitative", "axis": null}, "x2": {"field": "t2"}, "y": {"field": "v1", "type": "quantitative", "axis": null}, "y2": {"field": "v2"}}},
     {"data": {"values": [{"t": 33.4, "v": 705, "lab": "output current"}]}, "mark": {"type": "text", "align": "left", "baseline": "alphabetic", "fontSize": 10, "color": "#222222"},
      "encoding": {"x": {"field": "t", "type": "quantitative", "axis": null}, "y": {"field": "v", "type": "quantitative", "axis": null}, "text": {"field": "lab"}}},
     {"data": {"values": [{"t": -0.77, "v": 0, "lab": "C2"}]}, "mark": {"type": "text", "align": "left", "baseline": "alphabetic", "dy": -7, "fontSize": 11, "color": "#d02020"},
      "encoding": {"x": {"field": "t", "type": "quantitative", "axis": null}, "y": {"field": "v", "type": "quantitative", "axis": null}, "text": {"field": "lab"}}},
     {"data": {"values": [{"t": -0.31, "v": 0}]}, "mark": {"type": "tick", "orient": "horizontal", "size": 8, "thickness": 3, "color": "#e01010"},
      "encoding": {"x": {"field": "t", "type": "quantitative", "axis": null}, "y": {"field": "v", "type": "quantitative", "axis": null}}},
     {"data": {"values": [{}]}, "mark": {"type": "point", "shape": "triangle-up", "filled": true, "size": 55, "color": "#e01010", "opacity": 1},
      "encoding": {"x": {"datum": 25, "type": "quantitative", "axis": null}, "y": {"datum": -2190, "type": "quantitative", "axis": null}}}
    ]
   },
   {
    "width": 652, "height": 70,
    "view": {"stroke": null},
    "resolve": {"scale": {"fill": "independent", "stroke": "independent", "color": "independent"}},
    "layer": [
     {"data": {"name": "boxes"}, "mark": {"type": "rect", "cornerRadius": 3, "strokeWidth": 1},
      "encoding": {"x": {"field": "x1", "type": "quantitative", "scale": {"domain": [0, 50], "nice": false, "zero": false}, "axis": null}, "x2": {"field": "x2"},
                   "y": {"datum": 0, "type": "quantitative", "scale": {"domain": [0, 3.5], "reverse": true, "nice": false, "zero": false}, "axis": null}, "y2": {"datum": 0.8},
                   "fill": {"field": "ch", "type": "nominal", "legend": null, "scale": {"domain": ["C1","C2","C3","C4","TB","TR"], "range": ["#2a32c8","#e00000","#b02ec4","#e00000","#aaa5c4","#aaa5c4"]}},
                   "stroke": {"field": "ch", "type": "nominal", "legend": null, "scale": {"domain": ["C1","C2","C3","C4","TB","TR"], "range": ["#2a32c8","#e00000","#b02ec4","#e00000","#3a3a60","#3a3a60"]}}}},
     {"data": {"name": "badges"}, "mark": {"type": "rect", "cornerRadius": 3, "strokeWidth": 1},
      "encoding": {"x": {"field": "x1", "type": "quantitative", "axis": null}, "x2": {"field": "x2"},
                   "y": {"datum": 0.1, "type": "quantitative", "axis": null}, "y2": {"datum": 0.7},
                   "fill": {"field": "ch", "type": "nominal", "legend": null, "scale": {"domain": ["C1","C2","C3","C4","TR"], "range": ["#ffffff","#ffffff","#ffffff","#ffffff","#1a1a1a"]}},
                   "stroke": {"field": "ch", "type": "nominal", "legend": null, "scale": {"domain": ["C1","C2","C3","C4","TR"], "range": ["#2a32c8","#e00000","#b02ec4","#e00000","#1a1a1a"]}}}},
     {"data": {"name": "badges"}, "mark": {"type": "text", "align": "center", "baseline": "middle", "fontSize": 10},
      "encoding": {"x": {"field": "xm", "type": "quantitative", "axis": null}, "y": {"datum": 0.4, "type": "quantitative", "axis": null}, "text": {"field": "lab"},
                   "color": {"field": "ch", "type": "nominal", "legend": null, "scale": {"domain": ["C1","C2","C3","C4","TR"], "range": ["#2a32c8","#e00000","#b02ec4","#e00000","#ffffff"]}}}},
     {"data": {"name": "boxlab"}, "mark": {"type": "text", "align": "left", "baseline": "middle", "fontSize": 11},
      "encoding": {"x": {"field": "x", "type": "quantitative", "axis": null}, "y": {"datum": 0.4, "type": "quantitative", "axis": null}, "text": {"field": "lab"},
                   "color": {"field": "ch", "type": "nominal", "legend": null, "scale": {"domain": ["C1","C2","C3","C4","TB","TR"], "range": ["#9aa4ff","#ffffff","#ffffff","#ffffff","#1c1c4a","#1c1c4a"]}}}},
     {"data": {"name": "tbR"}, "mark": {"type": "text", "align": "right", "baseline": "middle", "fontSize": 11, "color": "#1c1c4a"},
      "encoding": {"x": {"field": "x", "type": "quantitative", "axis": null}, "y": {"datum": 0.4, "type": "quantitative", "axis": null}, "text": {"field": "lab"}}},
     {"data": {"name": "rowR"}, "mark": {"type": "text", "align": "right", "baseline": "middle", "fontSize": 11, "color": "#151515"},
      "encoding": {"x": {"field": "x", "type": "quantitative", "axis": null}, "y": {"field": "r", "type": "quantitative", "axis": null}, "text": {"field": "lab"}}},
     {"data": {"name": "rowL"}, "mark": {"type": "text", "align": "left", "baseline": "middle", "fontSize": 11, "color": "#151515"},
      "encoding": {"x": {"field": "x", "type": "quantitative", "axis": null}, "y": {"field": "r", "type": "quantitative", "axis": null}, "text": {"field": "lab"}}}
    ]
   }
  ]
 }
]
}
